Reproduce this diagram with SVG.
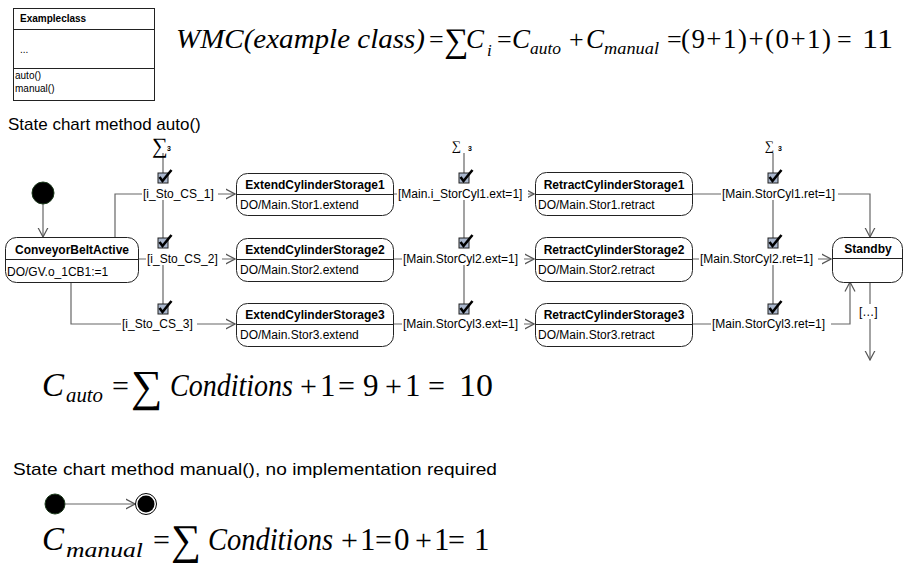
<svg xmlns="http://www.w3.org/2000/svg" width="904" height="563" viewBox="0 0 904 563">
  <style>
    .bg { fill: #ffffff; }
    .box { fill: #ffffff; stroke: #222222; stroke-width: 1; }
    .sep { stroke: #222222; stroke-width: 1; }
    .t { font-family: "Liberation Sans", Arial, sans-serif; font-size: 12px; fill: #000; }
    .tb { font-family: "Liberation Sans", Arial, sans-serif; font-size: 12px; font-weight: bold; fill: #000; }
    .cap { font-family: "Liberation Sans", Arial, sans-serif; font-size: 17px; fill: #000; }
    .cls { font-family: "Liberation Sans", Arial, sans-serif; font-size: 10px; fill: #000; }
    .clsb { font-family: "Liberation Sans", Arial, sans-serif; font-size: 10px; font-weight: bold; fill: #000; }
    .conn { fill: none; stroke: #666666; stroke-width: 1.2; }
    .lbl { fill: #ffffff; stroke: none; }
    .m { font-family: "Liberation Serif", serif; fill: #000; }
    .mi { font-family: "Liberation Serif", serif; font-style: italic; fill: #000; }
    .chkbox { fill: #a9b6cc; stroke: #222; stroke-width: 1; }
    .chk { fill: none; stroke: #000; stroke-width: 2.6; stroke-linejoin: miter; }
    .sub3 { font-family: "Liberation Sans", Arial, sans-serif; font-size: 7px; font-weight: bold; fill: #000; }
  </style>
  <defs>
    <marker id="arr" markerUnits="userSpaceOnUse" markerWidth="10" markerHeight="12" viewBox="0 0 10 12" refX="9.5" refY="6" orient="auto">
      <path d="M0,1 L9.5,6 L0,11" fill="none" stroke="#555" stroke-width="1.2"/>
    </marker>
    <!-- guard checkbox icon, origin = column centre / top of box -->
    <g id="check">
      <rect class="chkbox" x="-5" y="0" width="10" height="10"/>
      <path class="chk" d="M-3.5,4 L-0.5,8 L8.5,-3"/>
    </g>
  </defs>

  <rect class="bg" x="0" y="0" width="904" height="563"/>

  <!-- UML class -->
  <g id="exampleclass">
    <rect x="13.5" y="8.5" width="141" height="92" fill="#fff" stroke="#222"/>
    <line class="sep" x1="13.5" y1="29.5" x2="154.5" y2="29.5"/>
    <line class="sep" x1="13.5" y1="68.5" x2="154.5" y2="68.5"/>
    <text class="clsb" x="20" y="22">Exampleclass</text>
    <text class="cls" x="20" y="53">...</text>
    <text class="cls" x="15" y="79">auto()</text>
    <text class="cls" x="15" y="92">manual()</text>
  </g>

  <!-- WMC formula -->
  <g id="wmc-formula">
    <text class="mi" font-size="27" x="176" y="48" textLength="249" lengthAdjust="spacingAndGlyphs">WMC(example class)</text>
    <text class="m" font-size="26" x="429" y="48">=</text>
    <text class="m" font-size="34" x="444" y="52">∑</text>
    <text class="mi" font-size="27" x="466" y="48">C</text>
    <text class="mi" font-size="17" x="487" y="56">i</text>
    <text class="m" font-size="26" x="497" y="48">=</text>
    <text class="mi" font-size="27" x="512" y="48">C</text>
    <text class="mi" font-size="17" x="530" y="54" textLength="31" lengthAdjust="spacingAndGlyphs">auto</text>
    <text class="m" font-size="26" x="569" y="48">+</text>
    <text class="mi" font-size="27" x="586" y="48">C</text>
    <text class="mi" font-size="17" x="604" y="54" textLength="55" lengthAdjust="spacingAndGlyphs">manual</text>
    <text class="m" font-size="26" x="667" y="48">=</text>
    <text class="m" font-size="27" x="681" y="48" textLength="150" lengthAdjust="spacing">(9+1)+(0+1)</text>
    <text class="m" font-size="26" x="837" y="48">=</text>
    <text class="m" font-size="27" x="862" y="48" textLength="31" lengthAdjust="spacingAndGlyphs">11</text>
  </g>

  <text class="cap" x="8" y="130">State chart method auto()</text>

  <!-- connectors of the auto() state chart -->
  <g id="connectors">
    <path class="conn" d="M43,204 V237" marker-end="url(#arr)"/>
    <path class="conn" d="M115,237 V194 H235" marker-end="url(#arr)"/>
    <path class="conn" d="M138,259 H235" marker-end="url(#arr)"/>
    <path class="conn" d="M71,282 V324 H235" marker-end="url(#arr)"/>
    <path class="conn" d="M393,194 H534" marker-end="url(#arr)"/>
    <path class="conn" d="M393,259 H534" marker-end="url(#arr)"/>
    <path class="conn" d="M393,324 H534" marker-end="url(#arr)"/>
    <path class="conn" d="M692,194 H870 V237" marker-end="url(#arr)"/>
    <path class="conn" d="M692,259 H831" marker-end="url(#arr)"/>
    <path class="conn" d="M692,324 H850 V282" marker-end="url(#arr)"/>
    <path class="conn" d="M870,282 V360" marker-end="url(#arr)"/>
    <!-- guard columns -->
    <path class="conn" d="M163,153 V173 M163,199 V238 M163,264 V304"/>
    <path class="conn" d="M464,153 V173 M464,199 V238 M464,264 V304"/>
    <path class="conn" d="M773,153 V173 M773,199 V238 M773,264 V304"/>

    <!-- guard labels -->
    <rect class="lbl" x="142" y="187" width="76" height="13"/>
    <text class="t" x="143" y="198">[i_Sto_CS_1]</text>
    <rect class="lbl" x="146" y="252" width="76" height="13"/>
    <text class="t" x="147" y="263">[i_Sto_CS_2]</text>
    <rect class="lbl" x="121" y="317" width="76" height="13"/>
    <text class="t" x="122" y="328">[i_Sto_CS_3]</text>
    <rect class="lbl" x="397" y="187" width="131" height="13"/>
    <text class="t" x="398" y="198">[Main.i_StorCyl1.ext=1]</text>
    <rect class="lbl" x="402" y="252" width="122" height="13"/>
    <text class="t" x="403" y="263">[Main.StorCyl2.ext=1]</text>
    <rect class="lbl" x="402" y="317" width="122" height="13"/>
    <text class="t" x="403" y="328">[Main.StorCyl3.ext=1]</text>
    <rect class="lbl" x="721" y="187" width="117" height="13"/>
    <text class="t" x="722" y="198">[Main.StorCyl1.ret=1]</text>
    <rect class="lbl" x="699" y="252" width="119" height="13"/>
    <text class="t" x="700" y="263">[Main.StorCyl2.ret=1]</text>
    <rect class="lbl" x="711" y="317" width="120" height="13"/>
    <text class="t" x="712" y="328">[Main.StorCyl3.ret=1]</text>
    <rect class="lbl" x="858" y="304" width="25" height="15"/>
    <text class="t" x="859" y="316">[…]</text>
  </g>

  <!-- guard sums and checkboxes -->
  <g id="guards">
    <text class="m" font-size="22" x="152" y="153">∑</text>
    <text class="sub3" x="167" y="151">3</text>
    <text class="m" font-size="13" x="452" y="150">∑</text>
    <text class="sub3" x="468" y="151">3</text>
    <text class="m" font-size="13" x="765" y="150">∑</text>
    <text class="sub3" x="778" y="151">3</text>
    <use href="#check" x="163" y="173"/>
    <use href="#check" x="163" y="238"/>
    <use href="#check" x="163" y="304"/>
    <use href="#check" x="464" y="173"/>
    <use href="#check" x="464" y="238"/>
    <use href="#check" x="464" y="304"/>
    <use href="#check" x="773" y="173"/>
    <use href="#check" x="773" y="238"/>
    <use href="#check" x="773" y="304"/>
  </g>

  <!-- states -->
  <g id="initial-auto">
    <circle cx="43" cy="193" r="11" fill="#000" stroke="#1c3a1c" stroke-width="1"/>
  </g>
  <g id="conveyorbeltactive">
    <rect class="box" x="5.5" y="237.5" width="133" height="45" rx="11"/>
    <line class="sep" x1="5.5" y1="259.5" x2="138.5" y2="259.5"/>
    <text class="tb" x="72" y="254" text-anchor="middle">ConveyorBeltActive</text>
    <text class="t" x="7" y="276">DO/GV.o_1CB1:=1</text>
  </g>
  <g id="extend1">
    <rect class="box" x="236.5" y="173.5" width="157" height="42" rx="11"/>
    <line class="sep" x1="236.5" y1="194.5" x2="393.5" y2="194.5"/>
    <text class="tb" x="315" y="189" text-anchor="middle">ExtendCylinderStorage1</text>
    <text class="t" x="240" y="209">DO/Main.Stor1.extend</text>
  </g>
  <g id="extend2">
    <rect class="box" x="236.5" y="238.5" width="157" height="43" rx="11"/>
    <line class="sep" x1="236.5" y1="259.5" x2="393.5" y2="259.5"/>
    <text class="tb" x="315" y="254" text-anchor="middle">ExtendCylinderStorage2</text>
    <text class="t" x="240" y="274">DO/Main.Stor2.extend</text>
  </g>
  <g id="extend3">
    <rect class="box" x="236.5" y="303.5" width="157" height="43" rx="11"/>
    <line class="sep" x1="236.5" y1="324.5" x2="393.5" y2="324.5"/>
    <text class="tb" x="315" y="319" text-anchor="middle">ExtendCylinderStorage3</text>
    <text class="t" x="240" y="339">DO/Main.Stor3.extend</text>
  </g>
  <g id="retract1">
    <rect class="box" x="535.5" y="172.5" width="157" height="43" rx="11"/>
    <line class="sep" x1="535.5" y1="194.5" x2="692.5" y2="194.5"/>
    <text class="tb" x="614" y="189" text-anchor="middle">RetractCylinderStorage1</text>
    <text class="t" x="538" y="209">DO/Main.Stor1.retract</text>
  </g>
  <g id="retract2">
    <rect class="box" x="535.5" y="237.5" width="157" height="44" rx="11"/>
    <line class="sep" x1="535.5" y1="259.5" x2="692.5" y2="259.5"/>
    <text class="tb" x="614" y="254" text-anchor="middle">RetractCylinderStorage2</text>
    <text class="t" x="538" y="274">DO/Main.Stor2.retract</text>
  </g>
  <g id="retract3">
    <rect class="box" x="535.5" y="303.5" width="157" height="43" rx="11"/>
    <line class="sep" x1="535.5" y1="324.5" x2="692.5" y2="324.5"/>
    <text class="tb" x="614" y="319" text-anchor="middle">RetractCylinderStorage3</text>
    <text class="t" x="538" y="339">DO/Main.Stor3.retract</text>
  </g>
  <g id="standby">
    <rect class="box" x="832.5" y="237.5" width="70" height="45" rx="11"/>
    <line class="sep" x1="832.5" y1="258.5" x2="902.5" y2="258.5"/>
    <text class="tb" x="868" y="253" text-anchor="middle">Standby</text>
  </g>

  <!-- C_auto formula -->
  <g id="cauto-formula">
    <text class="mi" font-size="33" x="42" y="396">C</text>
    <text class="mi" font-size="20" x="66" y="402" textLength="37" lengthAdjust="spacingAndGlyphs">auto</text>
    <text class="m" font-size="30" x="112" y="396">=</text>
    <text class="m" font-size="44" x="131" y="401">∑</text>
    <text class="mi" font-size="31" x="170" y="396" textLength="123" lengthAdjust="spacingAndGlyphs">Conditions</text>
    <text class="m" font-size="30" x="300" y="396">+</text>
    <text class="m" font-size="31" x="320" y="396">1</text>
    <text class="m" font-size="30" x="338" y="396">=</text>
    <text class="m" font-size="31" x="363" y="396">9</text>
    <text class="m" font-size="30" x="385" y="396">+</text>
    <text class="m" font-size="31" x="405" y="396">1</text>
    <text class="m" font-size="30" x="428" y="396">=</text>
    <text class="m" font-size="31" x="459" y="396" textLength="34" lengthAdjust="spacingAndGlyphs">10</text>
  </g>

  <text class="cap" x="13" y="475" textLength="484" lengthAdjust="spacingAndGlyphs">State chart method manual(), no implementation required</text>

  <!-- manual() state chart -->
  <g id="initial-manual">
    <circle cx="55" cy="504" r="10" fill="#000" stroke="#1c3a1c" stroke-width="1"/>
  </g>
  <g id="connectors-manual">
    <path class="conn" d="M65,504 H135" marker-end="url(#arr)"/>
  </g>
  <g id="final-manual">
    <circle cx="146" cy="504" r="10.5" fill="#fff" stroke="#000" stroke-width="1"/>
    <circle cx="146" cy="504" r="8.5" fill="#000"/>
  </g>

  <!-- C_manual formula -->
  <g id="cmanual-formula">
    <text class="mi" font-size="33" x="42" y="550">C</text>
    <text class="mi" font-size="20" x="66" y="557" textLength="77" lengthAdjust="spacingAndGlyphs">manual</text>
    <text class="m" font-size="30" x="153" y="550">=</text>
    <text class="m" font-size="42" x="171" y="554">∑</text>
    <text class="mi" font-size="31" x="208" y="550" textLength="125" lengthAdjust="spacingAndGlyphs">Conditions</text>
    <text class="m" font-size="30" x="341" y="550">+</text>
    <text class="m" font-size="31" x="360" y="550">1</text>
    <text class="m" font-size="30" x="375" y="550">=</text>
    <text class="m" font-size="31" x="394" y="550">0</text>
    <text class="m" font-size="30" x="415" y="550">+</text>
    <text class="m" font-size="31" x="434" y="550">1</text>
    <text class="m" font-size="30" x="448" y="550">=</text>
    <text class="m" font-size="31" x="474" y="550">1</text>
  </g>
</svg>
